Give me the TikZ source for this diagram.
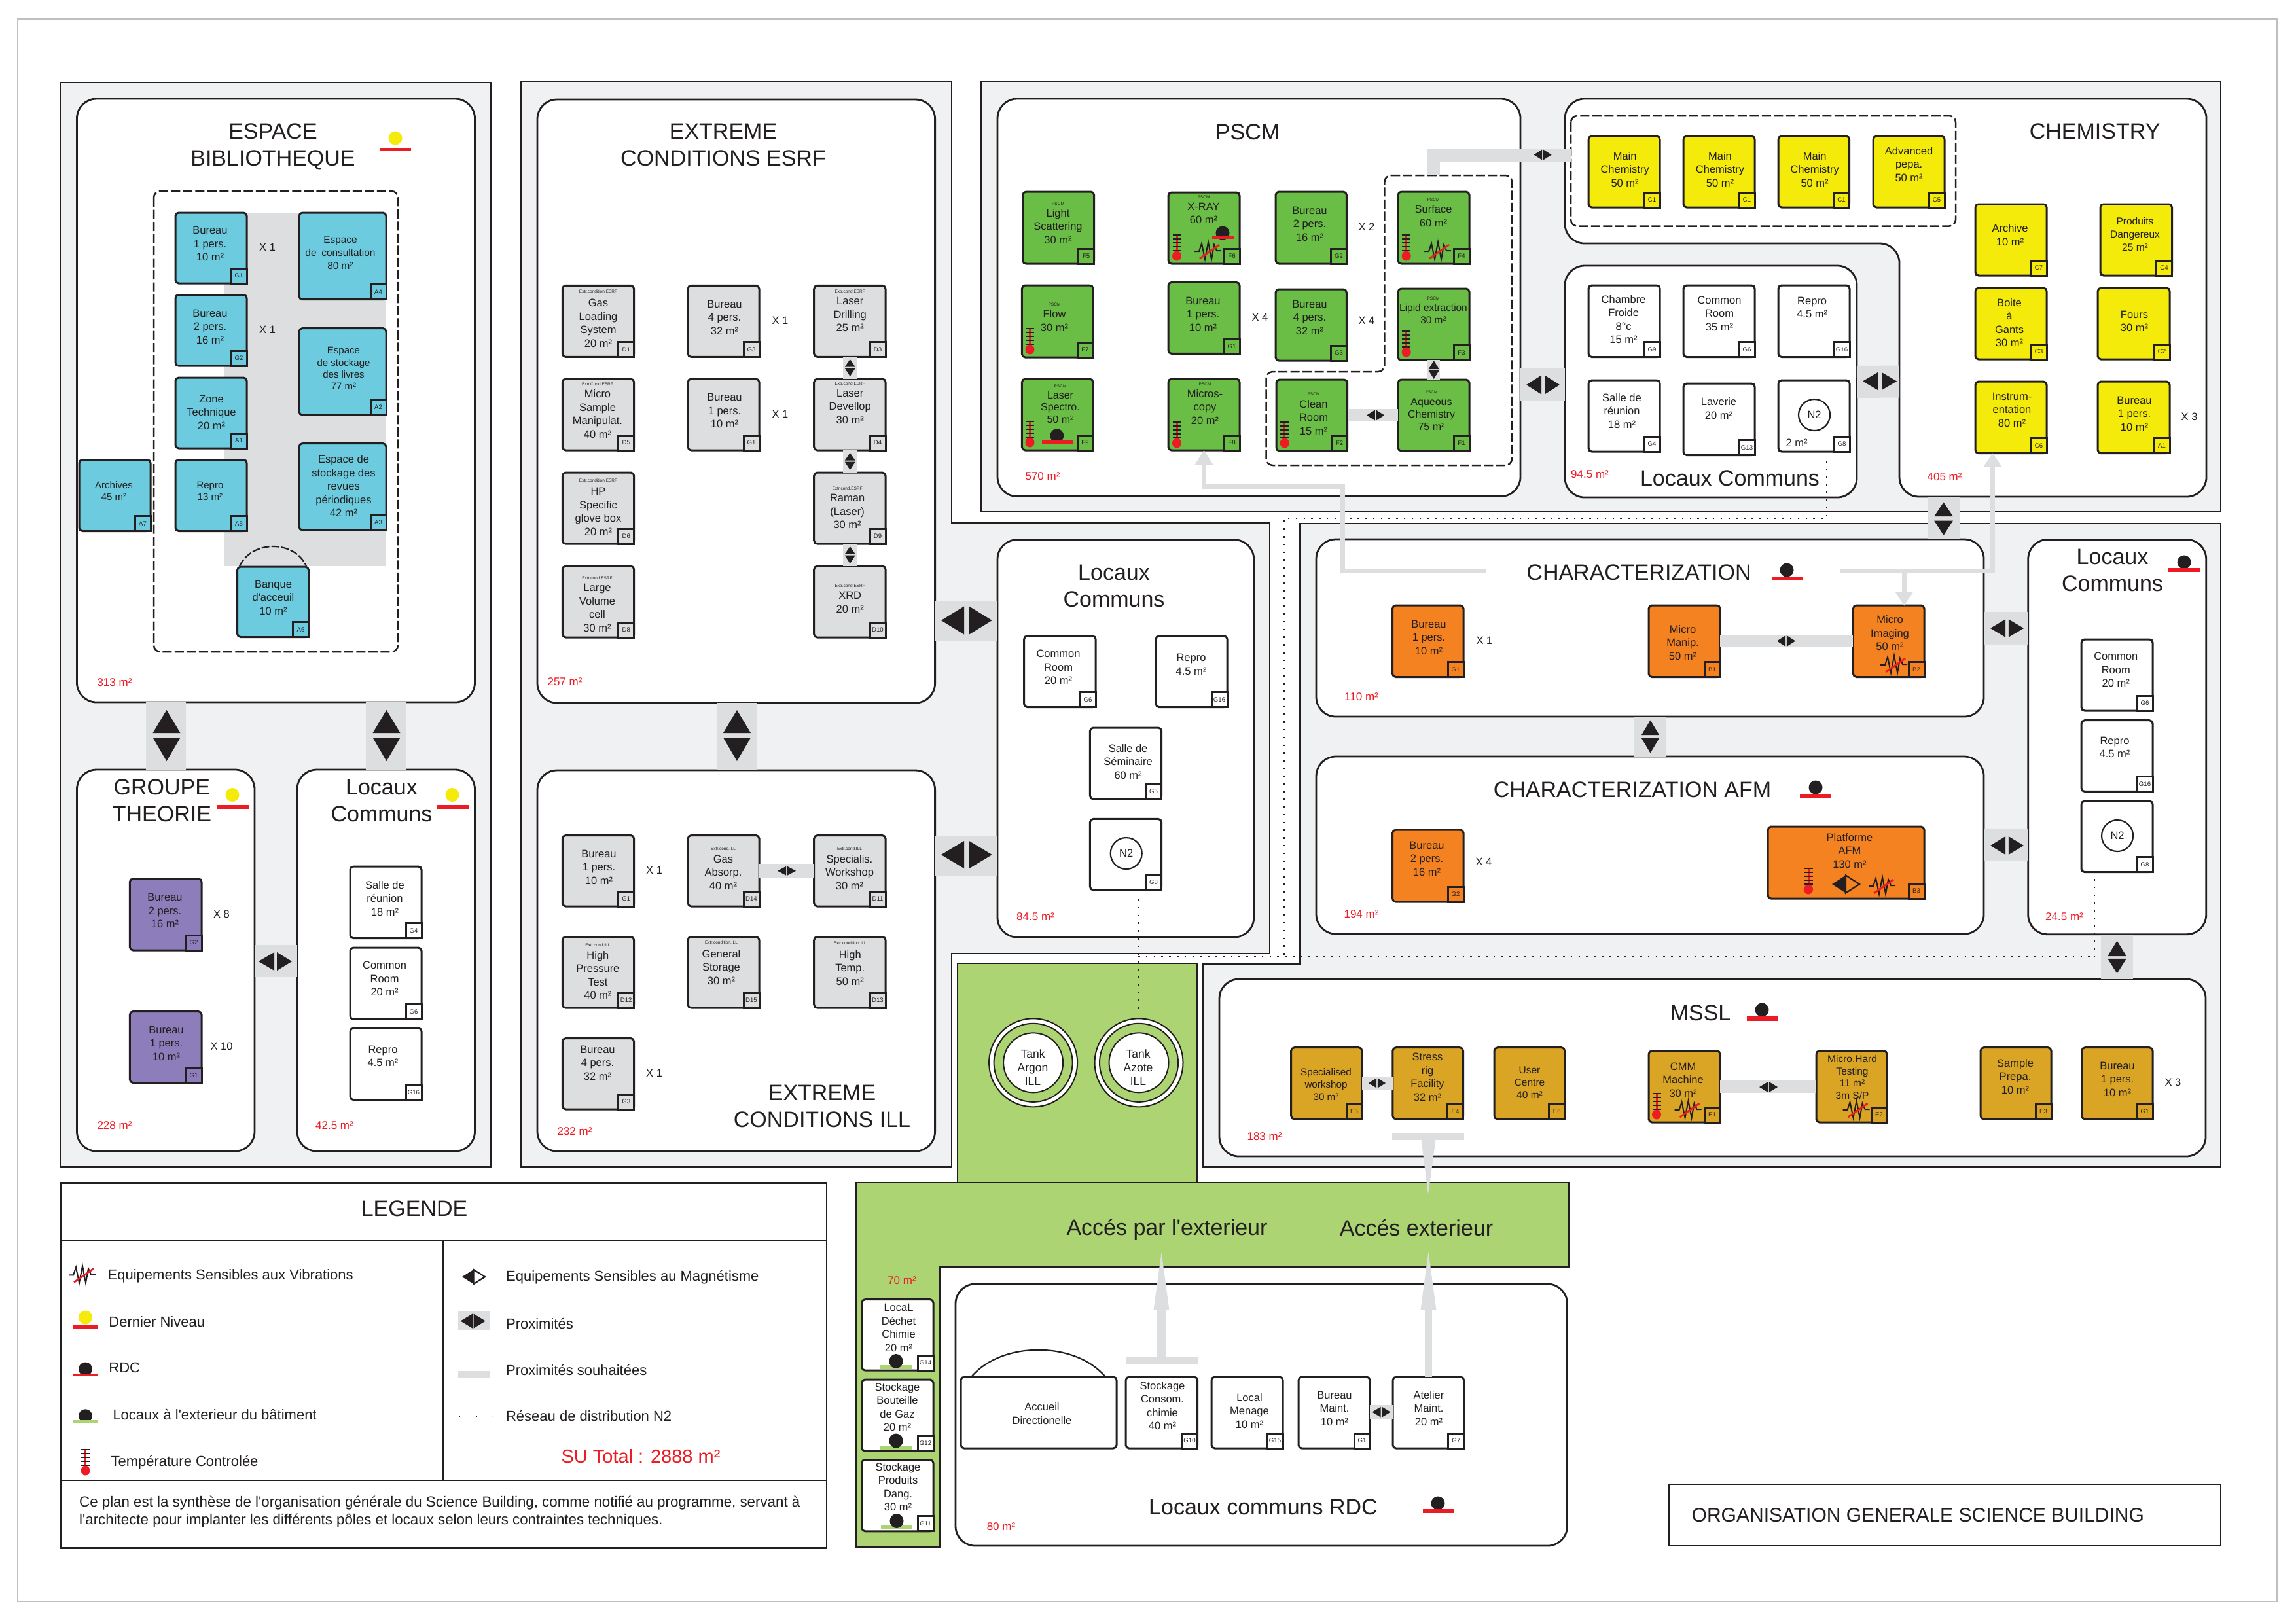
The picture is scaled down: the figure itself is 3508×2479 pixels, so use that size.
\documentclass[tikz,border=0pt]{standalone}
\usepackage{fontspec}
\usetikzlibrary{calc}
\newfontfamily\lsans{Liberation Sans}
\newdimen\pxu \pxu=0.284528pt
\newcommand\fpx[2]{\lsans\fontsize{#1\pxu}{#2\pxu}\selectfont}
\definecolor{ink}{HTML}{231F20}
\definecolor{panelc}{HTML}{EFF1F3}
\definecolor{barc}{HTML}{DCDEE0}
\definecolor{cBlue}{HTML}{6CCBDF}
\definecolor{cGray}{HTML}{DCDEE0}
\definecolor{cGreen}{HTML}{6ABD45}
\definecolor{cYellow}{HTML}{F5EB0A}
\definecolor{cOrange}{HTML}{F58220}
\definecolor{cGold}{HTML}{DAA425}
\definecolor{cPurple}{HTML}{8E7DBB}
\definecolor{cLime}{HTML}{ACD473}
\definecolor{cRed}{HTML}{ED1C24}
\tikzset{
  panel/.style={draw=ink,fill=panelc,line width=.28mm,line join=miter},
  zonebox/.style={draw=ink,fill=white,line width=.28mm,rounded corners=3mm,inner sep=0pt,outer sep=0pt},
  roombox/.style={draw=ink,line width=.3mm,rounded corners=.5mm,inner sep=0pt,outer sep=0pt},
  tagbox/.style={draw=ink,line width=.3mm,inner sep=0pt,outer sep=0pt,minimum width=2.4mm,minimum height=2.3mm,font=\fpx{9.6}{10},text=ink},
  dashbox/.style={draw=ink,line width=.25mm,dash pattern=on 1.4mm off .45mm,rounded corners=1mm},
  roomtext/.style={inner sep=0pt,align=center,text=ink,font=\fpx{16.5}{20.5}},
  tinytext/.style={inner sep=0pt,text=ink,font=\fpx{6.5}{7}},
  titletext/.style={inner sep=0pt,align=center,text=ink,font=\fpx{34}{41}},
  areatext/.style={inner sep=0pt,text=cRed,font=\fpx{17}{20}},
  xtext/.style={inner sep=0pt,text=ink,font=\fpx{16.5}{20}},
  legtext/.style={inner sep=0pt,anchor=west,text=ink,font=\fpx{22}{26},yshift=-.25mm},
  barline/.style={draw=barc,line cap=butt,line join=miter},
  dotline/.style={draw=ink,line width=.25mm,dash pattern=on .25mm off .93mm},
}
% room node with code tag
\newcommand\rmbox[7]{%
  \node[roombox,fill=#6,anchor=north west,minimum width={(#4-#2)*0.1mm},minimum height={(#5-#3)*0.1mm}] (#1) at (#2,#3) {};
  \node[tagbox,fill=#6,anchor=south east] (#1tag) at (#1.south east) {#7};
}
\newcommand\zonenode[5]{%
  \node[zonebox,anchor=north west,minimum width={(#4-#2)*0.1mm},minimum height={(#5-#3)*0.1mm}] (#1) at (#2,#3) {};
}
\newcommand\rtxt[5][]{\node[roomtext,#1] (#2l) at (#3,#4) {#5};}
\newcommand\smtxt[4]{\node[tinytext] (#1s) at (#2,#3) {#4};}
\newcommand\ttl[4]{\node[titletext,yshift=-.2mm] (#1) at (#2,#3) {#4};}
\newcommand\area[4]{\node[areatext] (#1) at (#2,#3) {#4};}
\newcommand\xlab[4]{\node[xtext] (#1) at (#2,#3) {#4};}
% proximity bars between named nodes
\newcommand\proxH[4]{\draw[barline,line width=#4*0.1mm] (#1.east |- 0,#3) -- (#2.west |- 0,#3);}
\newcommand\proxV[4]{\draw[barline,line width=#4*0.1mm] (#1.south -| #3,0) -- (#2.north -| #3,0);}
% pair of triangles
\newcommand\htri[6]{% cy, tipL, baseL, baseR, tipR, halfheight
  \fill[ink] (#2,#1) -- (#3,{#1-#6}) -- (#3,{#1+#6}) -- cycle;
  \fill[ink] (#5,#1) -- (#4,{#1-#6}) -- (#4,{#1+#6}) -- cycle;}
\newcommand\vtri[6]{% cx, tipT, baseT, baseB, tipB, halfwidth
  \fill[ink] (#1,#2) -- ({#1-#6},#3) -- ({#1+#6},#3) -- cycle;
  \fill[ink] (#1,#5) -- ({#1-#6},#4) -- ({#1+#6},#4) -- cycle;}
\newcommand\dia[4]{\htri{#2}{{#1-#3}}{{#1-.8}}{{#1+.8}}{{#1+#3}}{#4}}
% halves: black left, outlined right
\newcommand\magnet[4]{%
  \fill[ink] ({#1-#3},#2) -- (#1,{#2-#4}) -- (#1,{#2+#4}) -- cycle;
  \draw[ink,line width=.22mm,line join=miter] (#1,{#2-#4}) -- ({#1+#3},#2) -- (#1,{#2+#4}) -- cycle;}
\newcommand\zigmark[2]{\begin{scope}[shift={(#1,#2)}]
  \draw[ink,line width=.2mm,line join=miter] (-21,1) -- (-14,1) -- (-10,-11) -- (-5,13) -- (0,-13) -- (5,13) -- (9,-9) -- (13,0) -- (20,0);
  \draw[cRed,line width=.28mm] (-13,12) -- (17,-9);
\end{scope}}
\newcommand\thermo[2]{\begin{scope}[shift={(#1,#2)}]
  \draw[cRed,line width=.3mm] (0,0) -- (0,32);
  \foreach \ty in {1,7,13,19,25}{\draw[ink,line width=.2mm] (-6.5,\ty) -- (6.5,\ty);}
  \fill[cRed] (0,33) circle [x radius=7,y radius=7.5];
\end{scope}}
\newcommand\lvlmark[8]{% cx cy dotcolor barcolor x1 x2 y1 y2
  \fill[#3] (#1,#2) circle [x radius=10.5,y radius=10.5];
  \fill[#4] (#5,#7) rectangle (#6,#8);}
\newcommand\headU[4]{\fill[barc] (#1,#2) -- ({#1-#4},#3) -- ({#1+#4},#3) -- cycle;}
\begin{document}
\begin{tikzpicture}[x=0.1mm,y=-0.1mm]
\useasboundingbox (0,0) rectangle (3508,2479);
\fill[white] (0,0) rectangle (3508,2479);
\draw[draw=black!25,line width=.2mm] (27,29) rectangle (3479,2447);
%% ===== panels
\draw[panel] (92,126) rectangle (750,1783);
\draw[panel] (796,125) -- (1454,125) -- (1454,799) -- (1940,799) -- (1940,1457) -- (1454,1457) -- (1454,1783) -- (796,1783) -- cycle;
\draw[panel] (1499,125) rectangle (3393,782);
\draw[panel] (1986.5,800) -- (3393,800) -- (3393,1783) -- (1838,1783) -- (1838,1473) -- (1986.5,1473) -- cycle;
%% green outside areas
\draw[draw=ink,fill=cLime,line width=.28mm] (1463,1472) rectangle (1829.5,1807);
\draw[draw=ink,fill=cLime,line width=.28mm] (1308.6,1807) -- (2397,1807) -- (2397,1936) -- (1435.5,1936) -- (1435.5,2364.6) -- (1308.6,2364.6) -- cycle;
%% ===== zones
\zonenode{zEsp}{117.5}{151}{725.5}{1073}
\zonenode{zGrp}{117.5}{1176}{389}{1759}
\zonenode{zLoc}{454}{1176}{725.5}{1759}
\zonenode{zESRF}{821}{152}{1428.6}{1074}
\zonenode{zILL}{821}{1177}{1428.6}{1759}
\zonenode{zLocB}{1524}{824.7}{1915.7}{1432}
\zonenode{zPSCM}{1524}{151}{2323}{758.5}
\zonenode{zLocC}{2391}{406}{2837}{760}
\draw[draw=ink,fill=white,line width=.28mm,rounded corners=3mm] (2391,151) -- (3371,151) -- (3371,759) -- (2902,759) -- (2902,372) -- (2391,372) -- cycle;
\coordinate (zChemW) at (2902,583);
\coordinate (zChemS) at (2969.5,759);
\zonenode{zChar}{2011}{824}{3031}{1095}
\zonenode{zAFM}{2011}{1156}{3031}{1427}
\zonenode{zLocR}{3098.7}{824.4}{3370.7}{1427.7}
\zonenode{zMSSL}{1863}{1496}{3370}{1767}
\zonenode{zRDC}{1460}{1962}{2394.5}{2362}
%% ===== dotted N2 network
\coordinate (dnA) at (2791,704);
\coordinate (dnB) at (2791,792);
\coordinate (dnC) at (1962,792);
\coordinate (dnD) at (1962,1462);
\coordinate (dnE) at (1739,1462);
\coordinate (dnF) at (1739,1374);
\coordinate (dnG) at (1739,1550);
\coordinate (dnH) at (3200,1462);
\coordinate (dnI) at (3200,1343);
\draw[dotline] (dnA) -- (dnB) -- (dnC) -- (dnD);
\draw[dotline] (dnE) -- (dnH);
\draw[dotline] (dnF) -- (dnG);
\draw[dotline] (dnI) -- (dnH);
%% ===== ESPACE BIBLIOTHEQUE
\fill[barc] (377,325) rectangle (457,440);
\fill[barc] (343,430) rectangle (590,865);
\draw[dashbox] (235,292) rectangle (608,996);
\rmbox{aG1}{268}{325}{377}{433}{cBlue}{G1}
\rmbox{aG2}{268}{450.5}{377}{559}{cBlue}{G2}
\rmbox{aA1}{268}{577}{377}{685}{cBlue}{A1}
\rmbox{aA5}{268}{702.5}{377}{811.5}{cBlue}{A5}
\rmbox{aA7}{121}{702.5}{230}{811.5}{cBlue}{A7}
\rmbox{aA4}{457}{325}{590}{457.6}{cBlue}{A4}
\rmbox{aA2}{457}{501.6}{590}{634}{cBlue}{A2}
\rmbox{aA3}{457}{677.6}{590}{810}{cBlue}{A3}
\rmbox{aA6}{362.6}{866}{471.5}{973.5}{cBlue}{A6}
\draw[ink,line width=.22mm,dash pattern=on 1.2mm off .3mm] (366,865) .. controls (385,825) and (450,825) .. (468,865);
\rtxt{aG1}{321}{372.7}{Bureau\\1 pers.\\10 m²}
\rtxt{aG2}{321}{499}{Bureau\\2 pers.\\16 m²}
\rtxt{aA1}{323}{630}{Zone\\Technique\\20 m²}
\rtxt[font=\fpx{15}{18}]{aA5}{321}{750}{Repro\\13 m²}
\rtxt[font=\fpx{15}{18}]{aA7}{174}{750}{Archives\\45 m²}
\rtxt[font=\fpx{15.4}{20}]{aA4}{520}{386}{Espace\\de\hspace{.5em}consultation\\80 m²}
\rtxt[font=\fpx{15}{18.3}]{aA2}{525}{563}{Espace\\de stockage\\des livres\\77 m²}
\rtxt{aA3}{525}{742.6}{Espace de\\stockage des\\revues\\périodiques\\42 m²}
\rtxt{aA6}{417.5}{913}{Banque\\d'acceuil\\10 m²}
\xlab{xa1}{408.6}{378}{X 1}
\xlab{xa2}{408.6}{503.5}{X 1}
\ttl{tEsp}{417}{222}{ESPACE\\BIBLIOTHEQUE}
\lvlmark{604}{211}{cYellow}{cRed}{581}{628}{225.5}{231}
\area{aEsp}{175}{1042.4}{313 m²}
%% ===== GROUPE THEORIE
\rmbox{bG2}{198.3}{1342.7}{308}{1452}{cPurple}{G2}
\rmbox{bG1}{198.3}{1545.5}{308}{1654.5}{cPurple}{G1}
\rtxt{bG2}{252}{1391.6}{Bureau\\2 pers.\\16 m²}
\rtxt{bG1}{254}{1594}{Bureau\\1 pers.\\10 m²}
\xlab{xb1}{338.5}{1396.5}{X 8}
\xlab{xb2}{338.5}{1599}{X 10}
\ttl{tGrp}{247.4}{1221}{GROUPE\\THEORIE}
\lvlmark{355}{1214.5}{cYellow}{cRed}{331.8}{380}{1230}{1236}
\area{aGrp}{175}{1720}{228 m²}
%% ===== Locaux (left)
\rmbox{cG4}{535}{1324}{644}{1433.7}{white}{G4}
\rmbox{cG6}{535}{1448}{644}{1557.3}{white}{G6}
\rmbox{cG16}{535}{1571}{644}{1680.6}{white}{G16}
\rtxt{cG4}{588}{1373}{Salle de\\réunion\\18 m²}
\rtxt{cG6}{587.6}{1495.7}{Common\\Room\\20 m²}
\rtxt{cG16}{585}{1613.8}{Repro\\4.5 m²}
\ttl{tLoc}{583}{1221}{Locaux\\Communs}
\lvlmark{691}{1214.5}{cYellow}{cRed}{668}{716}{1230}{1236}
\area{aLoc}{511}{1720}{42.5 m²}
%% bars left
\proxV{zEsp}{zGrp}{253.5}{61}
\proxV{zEsp}{zLoc}{589.5}{61}
\proxH{zGrp}{zLoc}{1468.5}{49}
\vtri{254.5}{1085}{1120}{1127}{1163}{21}
\vtri{590.5}{1085}{1120}{1127}{1163}{21}
\htri{1469}{395}{419}{423}{446}{14}
%% ===== EXTREME ESRF
\rmbox{dD1}{859.4}{436.4}{968.7}{545.4}{cGray}{D1}
\rmbox{dD5}{859.4}{579}{968.7}{688}{cGray}{D5}
\rmbox{dD6}{859.4}{722}{968.7}{831}{cGray}{D6}
\rmbox{dD8}{859.4}{865}{968.7}{974}{cGray}{D8}
\rmbox{dG3}{1051}{436.4}{1160}{545.4}{cGray}{G3}
\rmbox{dG1}{1051}{579}{1160}{688}{cGray}{G1}
\rmbox{dD3}{1243.7}{436.4}{1353}{545.4}{cGray}{D3}
\rmbox{dD4}{1243.7}{579}{1353}{688}{cGray}{D4}
\rmbox{dD9}{1243.7}{722}{1353}{831}{cGray}{D9}
\rmbox{dD10}{1243.7}{865}{1353}{974}{cGray}{D10}
\smtxt{dD1}{914}{445}{Extr.condition.ESRF}
\rtxt{dD1}{914}{493.6}{Gas\\Loading\\System\\20 m²}
\smtxt{dD5}{913}{586.8}{Extr.Cond.ESRF}
\rtxt{dD5}{913}{632.7}{Micro\\Sample\\Manipulat.\\40 m²}
\smtxt{dD6}{914}{734}{Extr.condition.ESRF}
\rtxt{dD6}{914}{782}{HP\\Specific\\glove box\\20 m²}
\smtxt{dD8}{912.5}{883}{Extr.cond.ESRF}
\rtxt{dD8}{912.5}{929}{Large\\Volume\\cell\\30 m²}
\rtxt{dG3}{1107}{485}{Bureau\\4 pers.\\32 m²}
\rtxt{dG1}{1107}{627.7}{Bureau\\1 pers.\\10 m²}
\smtxt{dD3}{1298.7}{445}{Extr.cond.ESRF}
\rtxt{dD3}{1298.7}{480.7}{Laser\\Drilling\\25 m²}
\smtxt{dD4}{1298.7}{586}{Extr.cond.ESRF}
\rtxt{dD4}{1298.7}{621}{Laser\\Devellop\\30 m²}
\smtxt{dD9}{1294.6}{746}{Extr.cond.ESRF}
\rtxt{dD9}{1294.6}{781.5}{Raman\\(Laser)\\30 m²}
\smtxt{dD10}{1298.7}{895.6}{Extr.cond.ESRF}
\rtxt{dD10}{1298.7}{920.6}{XRD\\20 m²}
\xlab{xd1}{1192}{490}{X 1}
\xlab{xd2}{1192}{633}{X 1}
\ttl{tESRF}{1105}{219.5}{EXTREME\\CONDITIONS ESRF}
\area{aESRF}{863}{1042}{257 m²}
\proxV{dD3}{dD4}{1298.5}{21}
\proxV{dD4}{dD9}{1298.5}{21}
\proxV{dD9}{dD10}{1298.5}{21}
\vtri{1298.7}{549}{560.7}{562.6}{575}{8}
\vtri{1298.7}{692}{703.7}{705.6}{718}{8}
\vtri{1298.7}{835}{846.7}{848.6}{861}{8}
%% ===== EXTREME ILL
\rmbox{eG1}{859.4}{1276.5}{968.7}{1385}{cGray}{G1}
\rmbox{eD14}{1051}{1276.5}{1160}{1385}{cGray}{D14}
\rmbox{eD11}{1243.7}{1276.5}{1353}{1385}{cGray}{D11}
\rmbox{eD12}{859.4}{1431.5}{968.7}{1540}{cGray}{D12}
\rmbox{eD15}{1051}{1431.5}{1160}{1540}{cGray}{D15}
\rmbox{eD13}{1243.7}{1431.5}{1353}{1540}{cGray}{D13}
\rmbox{eG3}{859.4}{1586.5}{968.7}{1695}{cGray}{G3}
\rtxt{eG1}{915}{1325}{Bureau\\1 pers.\\10 m²}
\smtxt{eD14}{1105}{1297}{Extr.cond.ILL}
\rtxt{eD14}{1105}{1333}{Gas\\Absorp.\\40 m²}
\smtxt{eD11}{1298}{1297}{Extr.cond.ILL}
\rtxt{eD11}{1298}{1333}{Specialis.\\Workshop\\30 m²}
\smtxt{eD12}{913.4}{1444.6}{Extr.cond.ILL}
\rtxt{eD12}{913.4}{1490}{High\\Pressure\\Test\\40 m²}
\smtxt{eD15}{1102}{1440}{Extr.condition.ILL}
\rtxt{eD15}{1102}{1478}{General\\Storage\\30 m²}
\smtxt{eD13}{1298.7}{1441}{Extr.condition.ILL}
\rtxt{eD13}{1298.7}{1479}{High\\Temp.\\50 m²}
\rtxt{eG3}{913}{1624}{Bureau\\4 pers.\\32 m²}
\xlab{xe1}{999.6}{1330}{X 1}
\xlab{xe2}{999.6}{1640}{X 1}
\ttl{tILL}{1256}{1688}{EXTREME\\CONDITIONS ILL}
\area{aILL}{878}{1729}{232 m²}
\proxH{eD14}{eD11}{1330.3}{20.5}
\dia{1202}{1330.7}{14}{7}
\proxV{zESRF}{zILL}{1125}{61}
\vtri{1126}{1085}{1120}{1127}{1163}{21}
%% ===== Locaux middle
\rmbox{fG6}{1564.6}{971.7}{1674}{1080.6}{white}{G6}
\rmbox{fG16}{1766}{971.7}{1875}{1080.6}{white}{G16}
\rmbox{fG5}{1665.4}{1112}{1774.6}{1221}{white}{G5}
\rmbox{fG8}{1665.4}{1251.4}{1774.6}{1360}{white}{G8}
\rtxt{fG6}{1617}{1019.4}{Common\\Room\\20 m²}
\rtxt{fG16}{1820}{1015.5}{Repro\\4.5 m²}
\rtxt{fG5}{1723.6}{1164}{Salle de\\Séminaire\\60 m²}
\node[circle,draw=ink,line width=.22mm,fill=white,minimum size=4.8mm,inner sep=0pt,font=\fpx{16.5}{20},text=ink] (fN2) at (1720.7,1304) {N2};
\ttl{tLocB}{1702}{893.5}{Locaux\\Communs}
\area{aLocB}{1582}{1400.6}{84.5 m²}
\proxH{zESRF}{zLocB}{949}{62}
\proxH{zILL}{zLocB}{1308}{62}
\htri{948}{1438}{1473}{1480.7}{1515.7}{21.5}
\htri{1306}{1438}{1473}{1480.7}{1515.7}{21}
%% ===== PSCM
\draw[dashbox] (2115.4,268) -- (2310,268) -- (2310,711) -- (1934.6,711) -- (1934.6,568) -- (2115.4,568) -- cycle;
\rmbox{gF5}{1562.6}{293}{1671.6}{403}{cGreen}{F5}
\rmbox{gF6}{1785}{294}{1894}{403}{cGreen}{F6}
\rmbox{gG2}{1949}{293}{2057.4}{403}{cGreen}{G2}
\rmbox{gF4}{2136}{293}{2245}{403}{cGreen}{F4}
\rmbox{gF7}{1561.4}{436}{1670}{546}{cGreen}{F7}
\rmbox{gG1}{1785}{431.4}{1894}{540.4}{cGreen}{G1}
\rmbox{gG3}{1949}{442}{2057.4}{551}{cGreen}{G3}
\rmbox{gF3}{2136}{441}{2245}{550.4}{cGreen}{F3}
\rmbox{gF9}{1561.4}{579}{1670}{688}{cGreen}{F9}
\rmbox{gF8}{1785}{579}{1894}{688}{cGreen}{F8}
\rmbox{gF2}{1950}{580}{2058.6}{689}{cGreen}{F2}
\rmbox{gF1}{2136}{580}{2245}{689}{cGreen}{F1}
\smtxt{gF5}{1616.5}{311}{PSCM}
\rtxt{gF5}{1616.5}{346}{Light\\Scattering\\30 m²}
\smtxt{gF6}{1839}{301.6}{PSCM}
\rtxt{gF6}{1839}{326}{X-RAY\\60 m²}
\rtxt{gG2}{2001}{342}{Bureau\\2 pers.\\16 m²}
\smtxt{gF4}{2190}{305}{PSCM}
\rtxt{gF4}{2190}{330}{Surface\\60 m²}
\smtxt{gF7}{1611}{465}{PSCM}
\rtxt{gF7}{1611}{490}{Flow\\30 m²}
\rtxt{gG1}{1838}{480}{Bureau\\1 pers.\\10 m²}
\rtxt{gG3}{2001}{485}{Bureau\\4 pers.\\32 m²}
\smtxt{gF3}{2190}{456}{PSCM}
\rtxt[font=\fpx{15.4}{19}]{gF3}{2190}{479}{Lipid extraction\\30 m²}
\smtxt{gF9}{1620}{590.6}{PSCM}
\rtxt[font=\fpx{16}{18.5}]{gF9}{1620}{622.5}{Laser\\Spectro.\\50 m²}
\smtxt{gF8}{1841}{587}{PSCM}
\rtxt{gF8}{1841}{622}{Micros-\\copy\\20 m²}
\smtxt{gF2}{2007}{602}{PSCM}
\rtxt{gF2}{2007}{638}{Clean\\Room\\15 m²}
\smtxt{gF1}{2187}{599}{PSCM}
\rtxt[font=\fpx{16}{18.7}]{gF1}{2187}{633}{Aqueous\\Chemistry\\75 m²}
\lvlmark{1868}{356}{ink}{cRed}{1852}{1884.6}{360.5}{364.7}
\zigmark{1846}{383}
\thermo{1798}{358}
\thermo{2148.7}{358}
\zigmark{2197}{383}
\thermo{1573.5}{501}
\thermo{2148.7}{505}
\thermo{1573.5}{643}
\lvlmark{1614.8}{665.7}{ink}{cRed}{1592}{1639}{673}{679.3}
\thermo{1798}{644}
\thermo{1962.7}{644}
\xlab{xg1}{2088}{347}{X 2}
\xlab{xg2}{1925}{485}{X 4}
\xlab{xg3}{2088}{490}{X 4}
\ttl{tPSCM}{1906}{199.6}{PSCM}
\area{aPSCM}{1593}{728}{570 m²}
\proxV{gF3}{gF1}{2190.7}{19}
\vtri{2190.7}{551}{564}{566}{579}{8}
\proxH{gF2}{gF1}{634.7}{19.5}
\dia{2101.6}{634.5}{13.5}{8}
%% ===== CHEMISTRY
\draw[dashbox] (2400,177) rectangle (2988,345.5);
\rmbox{hC1a}{2427}{208}{2536}{317}{cYellow}{C1}
\rmbox{hC1b}{2572}{208}{2681}{317}{cYellow}{C1}
\rmbox{hC1c}{2717}{208}{2825.5}{317}{cYellow}{C1}
\rmbox{hC5}{2862}{208}{2971}{317}{cYellow}{C5}
\rmbox{hC7}{3018}{312}{3127}{421}{cYellow}{C7}
\rmbox{hC4}{3209}{312}{3318.5}{421}{cYellow}{C4}
\rmbox{hC3}{3018}{440}{3127}{549}{cYellow}{C3}
\rmbox{hC2}{3205}{440}{3315}{549}{cYellow}{C2}
\rmbox{hC6}{3018}{583}{3127}{692.5}{cYellow}{C6}
\rmbox{hA1}{3205}{583}{3315}{692.5}{cYellow}{A1}
\rtxt{hC1a}{2482.6}{258.8}{Main\\Chemistry\\50 m²}
\rtxt{hC1b}{2628}{258.8}{Main\\Chemistry\\50 m²}
\rtxt{hC1c}{2772.6}{258.8}{Main\\Chemistry\\50 m²}
\rtxt{hC5}{2916.6}{251}{Advanced\\pepa.\\50 m²}
\rtxt{hC7}{3071}{359}{Archive\\10 m²}
\rtxt[font=\fpx{15.5}{20}]{hC4}{3262}{357.7}{Produits\\Dangereux\\25 m²}
\rtxt{hC3}{3070}{493}{Boite\\à\\Gants\\30 m²}
\rtxt{hC2}{3261}{491}{Fours\\30 m²}
\rtxt{hC6}{3074}{626}{Instrum-\\entation\\80 m²}
\rtxt{hA1}{3261}{632}{Bureau\\1 pers.\\10 m²}
\xlab{xh1}{3345}{637}{X 3}
\ttl{tChem}{3200.6}{199}{CHEMISTRY}
\area{aChem}{2971}{728.4}{405 m²}
%% ===== Locaux (top)
\rmbox{iG9}{2427}{436}{2536}{545.5}{white}{G9}
\rmbox{iG6}{2572}{436}{2681}{545.5}{white}{G6}
\rmbox{iG16}{2717}{436}{2826}{545.5}{white}{G16}
\rmbox{iG4}{2427}{581}{2536}{690}{white}{G4}
\rmbox{iG13}{2572}{586}{2681}{695.5}{white}{G13}
\rmbox{iG8}{2717}{581}{2826}{690}{white}{G8}
\rtxt{iG9}{2480.6}{488}{Chambre\\Froide\\8°c\\15 m²}
\rtxt{iG6}{2627}{479}{Common\\Room\\35 m²}
\rtxt{iG16}{2768.6}{470}{Repro\\4.5 m²}
\rtxt{iG4}{2478}{628}{Salle de\\réunion\\18 m²}
\rtxt{iG13}{2626}{624}{Laverie\\20 m²}
\rtxt{iG8}{2745}{677}{2 m²}
\node[circle,draw=ink,line width=.22mm,fill=white,minimum size=4.8mm,inner sep=0pt,font=\fpx{16.5}{20},text=ink] (iN2) at (2772,634) {N2};
\ttl{tLocC}{2643}{728.4}{Locaux Communs}
\area{aLocC}{2429}{725}{94.5 m²}
\draw[barline,line width=4.9mm] (zPSCM.east |- 0,587.5) -- (zLocC.west |- 0,587.5);
\htri{588}{2332}{2355}{2360}{2383}{14.5}
\draw[barline,line width=4.9mm] (zLocC.east |- 0,583.5) -- (zChemW);
\htri{582.5}{2846}{2869}{2875}{2898}{13.5}
\coordinate (chA) at (2190.7,268);
\coordinate (chB) at (2190.7,237);
\coordinate (chC) at (2400,237);
\draw[barline,line width=1.9mm] (chA) -- (chB) -- (chC);
\dia{2357}{236.5}{13.5}{8}
%% ===== CHARACTERIZATION
\rmbox{jG1}{2127.5}{925}{2236}{1034.5}{cOrange}{G1}
\rmbox{jB1}{2519}{925}{2628}{1034.5}{cOrange}{B1}
\rmbox{jB2}{2831.4}{925}{2940}{1034.5}{cOrange}{B2}
\rtxt{jG1}{2183}{974}{Bureau\\1 pers.\\10 m²}
\rtxt{jB1}{2571}{982}{Micro\\Manip.\\50 m²}
\rtxt{jB2}{2887.5}{967.5}{Micro\\Imaging\\50 m²}
\zigmark{2894}{1015}
\xlab{xj1}{2268}{978.7}{X 1}
\ttl{tChar}{2504}{873}{CHARACTERIZATION}
\lvlmark{2730}{871}{ink}{cRed}{2706.5}{2754}{881}{887}
\area{aChar}{2080}{1065}{110 m²}
\proxH{jB1}{jB2}{979.5}{19}
\dia{2729}{979.5}{14}{8.5}
%% ===== AFM
\rmbox{kG2}{2127.5}{1268}{2236}{1378}{cOrange}{G2}
\rmbox{kB3}{2701}{1263}{2940}{1373}{cOrange}{B3}
\rtxt{kG2}{2180}{1312}{Bureau\\2 pers.\\16 m²}
\rtxt{kB3}{2826}{1300}{Platforme\\AFM\\130 m²}
\thermo{2763}{1326}
\magnet{2820}{1351}{21}{13.5}
\zigmark{2876}{1353}
\xlab{xk1}{2267}{1317}{X 4}
\ttl{tAFM}{2494}{1205}{CHARACTERIZATION AFM}
\lvlmark{2774}{1203}{ink}{cRed}{2750}{2798}{1213.5}{1220}
\area{aAFM}{2080}{1397}{194 m²}
\proxV{zChar}{zAFM}{2521.5}{49}
\vtri{2521.5}{1100.5}{1123}{1128}{1150.5}{13.5}
%% ===== Locaux (right)
\rmbox{lG6}{3180}{977}{3289}{1086}{white}{G6}
\rmbox{lG16}{3180}{1100.7}{3289}{1209.4}{white}{G16}
\rmbox{lG8}{3180}{1224}{3289}{1332.6}{white}{G8}
\rtxt{lG6}{3232.7}{1023.7}{Common\\Room\\20 m²}
\rtxt{lG16}{3231}{1142}{Repro\\4.5 m²}
\node[circle,draw=ink,line width=.22mm,fill=white,minimum size=4.8mm,inner sep=0pt,font=\fpx{16.5}{20},text=ink] (lN2) at (3235,1277) {N2};
\ttl{tLocR}{3227.5}{869.3}{Locaux\\Communs}
\lvlmark{3337}{859}{ink}{cRed}{3313}{3361}{868.4}{874}
\area{aLocR}{3154}{1401}{24.5 m²}
\proxH{zChar}{zLocR}{960}{49.7}
\proxH{zAFM}{zLocR}{1291.5}{49}
\htri{960}{3041}{3064}{3068.7}{3092}{13.7}
\htri{1292}{3041}{3064}{3068.7}{3092}{14}
\draw[barline,line width=4.9mm] (zChemS) -- (zChar.north -| zChemS);
\vtri{2969.5}{767.5}{789}{795.6}{818}{14.3}
%% ===== MSSL
\rmbox{mE5}{1972.6}{1600.7}{2081}{1710}{cGold}{E5}
\rmbox{mE4}{2127.8}{1600.7}{2235.5}{1710}{cGold}{E4}
\rmbox{mE6}{2283}{1600.7}{2390.7}{1710}{cGold}{E6}
\rmbox{mE1}{2519}{1605.7}{2628}{1715}{cGold}{E1}
\rmbox{mE2}{2775}{1605.7}{2883}{1715}{cGold}{E2}
\rmbox{mE3}{3026}{1600.7}{3134}{1710}{cGold}{E3}
\rmbox{mG1}{3180.6}{1600.7}{3289}{1710}{cGold}{G1}
\rtxt[font=\fpx{15.2}{19}]{mE5}{2026}{1657}{Specialised\\workshop\\30 m²}
\rtxt{mE4}{2181}{1646}{Stress\\rig\\Facility\\32 m²}
\rtxt[font=\fpx{15.5}{19}]{mE6}{2337}{1654}{User\\Centre\\40 m²}
\rtxt{mE1}{2571.6}{1650}{CMM\\Machine\\30 m²}
\rtxt[font=\fpx{15.5}{18.5}]{mE2}{2830}{1646}{Micro.Hard\\Testing\\11 m²\\3m S/P}
\rtxt{mE3}{3079}{1645}{Sample\\Prepa.\\10 m²}
\rtxt{mG1}{3235}{1649}{Bureau\\1 pers.\\10 m²}
\thermo{2531}{1670}
\zigmark{2579.5}{1695}
\zigmark{2836.5}{1695}
\xlab{xm1}{3320}{1654}{X 3}
\ttl{tMSSL}{2598}{1545.7}{MSSL}
\lvlmark{2692}{1543}{ink}{cRed}{2668.5}{2716}{1553}{1560}
\area{aMSSL}{1932}{1737}{183 m²}
\proxH{mE5}{mE4}{1655}{20}
\dia{2104}{1655}{13}{7.5}
\proxH{mE1}{mE2}{1660.3}{19.5}
\dia{2702}{1661}{14}{8}
\proxV{zLocR}{zMSSL}{3234.5}{49}
\vtri{3234.5}{1437.6}{1461}{1464.8}{1487.5}{14.3}
%% ===== tanks
\foreach \tk/\tx in {tkA/1578.6,tkB/1740}{
  \node[circle,draw=ink,line width=.2mm,fill=white,minimum size=13.5mm,inner sep=0pt] (\tk o) at (\tx,1623.8) {};
  \node[circle,draw=ink,line width=.2mm,fill=cLime,minimum size=12mm,inner sep=0pt] (\tk g) at (\tx,1623.8) {};
  \node[circle,draw=ink,line width=.2mm,fill=white,minimum size=9.1mm,inner sep=0pt] (\tk i) at (\tx,1623.8) {};
}
\rtxt[font=\fpx{17.5}{20.7}]{tkA}{1578}{1631}{Tank\\Argon\\ILL}
\rtxt[font=\fpx{17.5}{20.7}]{tkB}{1739}{1631}{Tank\\Azote\\ILL}
%% ===== Access
\node[inner sep=0pt,text=ink,font=\fpx{34}{40}] (accA) at (1783,1878) {Accés par l'exterieur};
\node[inner sep=0pt,text=ink,font=\fpx{34}{40}] (accB) at (2164,1876) {Accés exterieur};
%% ===== green storage rooms
\rmbox{nG14}{1316.7}{1985.6}{1426}{2094}{white}{G14}
\rmbox{nG12}{1316.7}{2108}{1426}{2217}{white}{G12}
\rmbox{nG11}{1316.7}{2230.5}{1426}{2339.7}{white}{G11}
\rtxt{nG14}{1373}{2029}{LocaL\\Déchet\\Chimie\\20 m²}
\rtxt{nG12}{1371}{2150}{Stockage\\Bouteille\\de Gaz\\20 m²}
\rtxt{nG11}{1372}{2272}{Stockage\\Produits\\Dang.\\30 m²}
\fill[cLime] (1344.6,2086) rectangle (1393,2092);
\fill[ink] (1369,2080) circle [x radius=10.5,y radius=11];
\fill[cLime] (1344.6,2208.6) rectangle (1393,2214.5);
\fill[ink] (1369,2201.5) circle [x radius=10.5,y radius=11];
\fill[cLime] (1346,2331) rectangle (1394,2337);
\fill[ink] (1370,2324) circle [x radius=10.5,y radius=11];
\area{aGreen}{1378}{1957}{70 m²}
%% ===== Locaux communs RDC
\node[roombox,fill=white,anchor=north west,minimum width=23.8mm,minimum height=10.9mm] (oAcc) at (1468,2104) {};
\draw[ink,line width=.22mm] (1484,2104) .. controls (1530,2049) and (1643,2049) .. (1689,2104);
\rtxt{oAcc}{1592}{2160}{Accueil\\Directionelle}
\rmbox{oG10}{1720}{2104}{1829.5}{2213}{white}{G10}
\rmbox{oG15}{1851}{2104}{1960}{2213}{white}{G15}
\rmbox{oG1}{1984}{2104}{2093}{2213}{white}{G1}
\rmbox{oG7}{2128}{2104}{2236.7}{2213}{white}{G7}
\rtxt{oG10}{1776}{2148}{Stockage\\Consom.\\chimie\\40 m²}
\rtxt{oG15}{1909}{2156}{Local\\Menage\\10 m²}
\rtxt{oG1}{2039}{2152}{Bureau\\Maint.\\10 m²}
\rtxt{oG7}{2183}{2152}{Atelier\\Maint.\\20 m²}
\ttl{tRDC}{1930}{2301}{Locaux communs RDC}
\lvlmark{2197}{2297}{ink}{cRed}{2173.6}{2221}{2306}{2312}
\area{aRDC}{1529.5}{2332.5}{80 m²}
\proxH{oG1}{oG7}{2158}{22}
\dia{2110.5}{2157.6}{14}{8}
%% ===== grey access arrows
% from CHARACTERIZATION to Microscopy
\coordinate (arA) at (2270,872.5);
\coordinate (arB) at (2051.5,872.5);
\coordinate (arC) at (2051.5,743);
\coordinate (arD) at (1839.5,743);
\coordinate (arE) at (1839.5,705);
\draw[barline,line width=.7mm] (arA) -- (arB) -- (arC) -- (arD) -- (arE);
\headU{1839.5}{688}{710}{14}
% from CHARACTERIZATION to Instrumentation and Micro Imaging
\coordinate (arF) at (2811,872.5);
\coordinate (arG) at (3044.5,872.5);
\coordinate (arH) at (3044.5,705);
\draw[barline,line width=.7mm] (arF) -- (arG) -- (arH);
\headU{3044.5}{692.5}{713}{14}
\coordinate (arI) at (2909.7,872.5);
\coordinate (arJ) at (2909.7,908);
\draw[barline,line width=.75mm] (arI) -- (arJ);
\headU{2909.3}{925.5}{904}{14}
% T arrow MSSL to outside
\fill[barc] (2127,1731) rectangle (2236.7,1742);
\fill[barc] (2171.5,1742) -- (2193.4,1742) -- (2182,1825) -- cycle;
% T arrow RDC to outside
\coordinate (arK) at (1774.5,2078);
\coordinate (arL) at (1774.5,1995);
\fill[barc] (1720,2073) rectangle (1829.5,2084);
\draw[barline,line width=1.3mm] (arK) -- (arL);
\headU{1774.5}{1914}{2001.6}{12}
\coordinate (arM) at (2182.4,2104);
\coordinate (arN) at (2182.4,1995);
\draw[barline,line width=1.15mm] (arM) -- (arN);
\headU{2182.4}{1912.6}{2001.6}{12}
%% ===== legend
\draw[draw=ink,line width=.28mm] (93,1807.4) rectangle (1263,2365.5);
\draw[draw=ink,line width=.28mm] (93,1895) -- (1263,1895);
\draw[draw=ink,line width=.28mm] (93,2262) -- (1263,2262);
\draw[draw=ink,line width=.22mm] (677.5,1895) -- (677.5,2262);
\node[inner sep=0pt,text=ink,font=\fpx{34}{40}] (legT) at (633,1846.5) {LEGENDE};
\zigmark{126}{1947.4}
\node[legtext] (leg1) at (164,1947) {Equipements Sensibles aux Vibrations};
\lvlmark{130.5}{2013}{cYellow}{cRed}{111}{150}{2025}{2030}
\node[legtext] (leg2) at (165.7,2017) {Dernier Niveau};
\lvlmark{130.5}{2092}{ink}{cRed}{111}{150}{2098.5}{2103}
\node[legtext] (leg3) at (165.7,2087.4) {RDC};
\lvlmark{130.5}{2163.7}{ink}{cLime}{111}{150}{2169.6}{2174.4}
\node[legtext] (leg4) at (171.8,2158.5) {Locaux à l'exterieur du bâtiment};
\thermo{130.5}{2214}
\node[legtext] (leg5) at (168.8,2232) {Température Controlée};
\magnet{723.5}{1951}{17.5}{11}
\node[legtext] (leg6) at (772.4,1949) {Equipements Sensibles au Magnétisme};
\fill[barc] (699.7,2004.4) rectangle (748,2033.3);
\dia{722.7}{2018.5}{19}{11}
\node[legtext] (leg7) at (772.4,2020) {Proximités};
\fill[barc] (699.7,2095) rectangle (748,2104.8);
\node[legtext] (leg8) at (772.4,2090.7) {Proximités souhaitées};
\coordinate (legdA) at (701,2164);
\coordinate (legdB) at (752,2164);
\draw[ink,line width=.2mm,dash pattern=on .2mm off 2.35mm] (legdA) -- (legdB);
\node[legtext] (leg9) at (772.4,2161) {Réseau de distribution N2};
\node[inner sep=0pt,text=cRed,font=\fpx{29}{34}] (legSU) at (979,2225) {SU Total : 2888 m²};
\node[inner sep=0pt,anchor=west,align=left,text=ink,font=\fpx{22.3}{27.3}] (legP) at (120.5,2310) {Ce plan est la synthèse de l'organisation générale du Science Building, comme notifié au programme, servant à\\l'architecte pour implanter les différents pôles et locaux selon leurs contraintes techniques.};
%% ===== sheet title
\node[draw=ink,line width=.25mm,fill=white,inner sep=0pt,outer sep=0pt,anchor=north west,minimum width=84.3mm,minimum height=9.4mm] (sheet) at (2550,2268) {};
\node[inner sep=0pt,anchor=west,text=ink,font=\fpx{30}{36}] (sheetT) at (2584,2315) {ORGANISATION GENERALE SCIENCE BUILDING};
\end{tikzpicture}
\end{document}
